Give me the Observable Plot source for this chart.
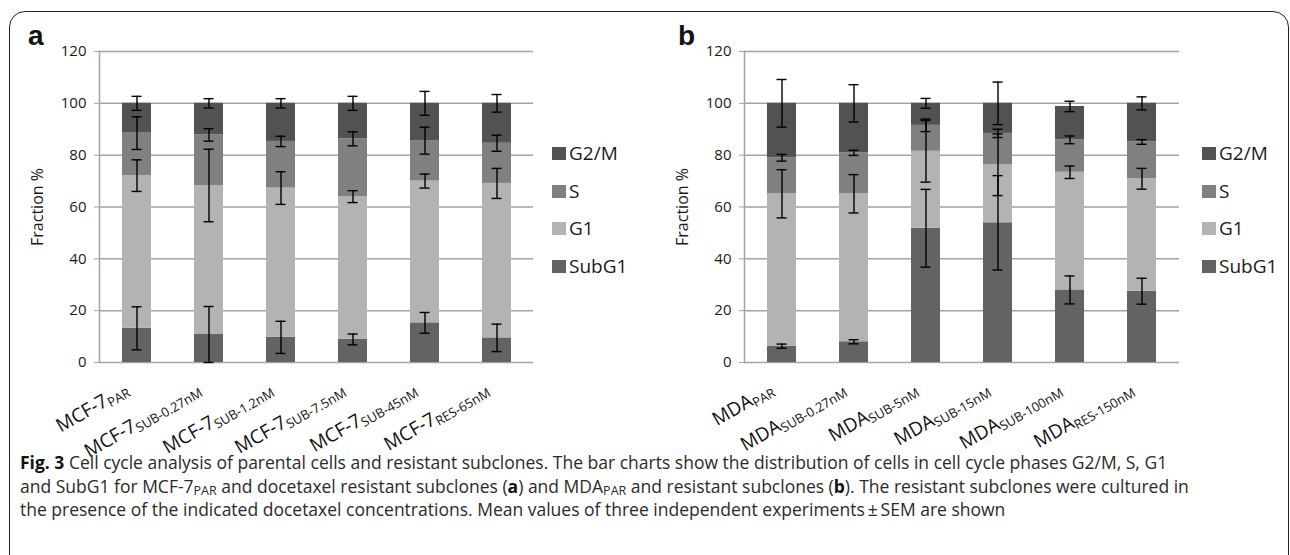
<!DOCTYPE html>
<html>
<head>
<meta charset="utf-8">
<script src="https://cdn.jsdelivr.net/npm/d3@7"></script>
<script src="https://cdn.jsdelivr.net/npm/@observablehq/plot@0.6"></script>
<style>
  html, body { margin: 0; padding: 0; background: #fff; }
  body { width: 1290px; height: 555px; overflow: hidden; position: relative; font-family: "Open Sans", sans-serif; color: #1a1a1a; }
  #frame { position: absolute; left: 9px; top: 11px; width: 1280px; height: 620px; border: 1.6px solid #222; border-radius: 16px; box-sizing: border-box; }
  .panel { position: absolute; top: 0; }
  .letter { position: absolute; font-family: "Liberation Sans", Arial, sans-serif; font-weight: bold; font-size: 28px; line-height: 1; color: #111; }
  .legend { position: absolute; }
  .legend .item { position: absolute; left: 0; display: flex; align-items: center; white-space: nowrap; font-size: 19px; line-height: 1; }
  .legend .sw { width: 14px; height: 13px; margin-right: 3px; }
  #caption { position: absolute; left: 20px; top: 451px; font-size: 17.5px; line-height: 23.5px; color: #2a2a2a; white-space: nowrap; }
  #caption b { color: #111; }
  #caption sub { font-size: 12.5px; vertical-align: -2px; line-height: 0; }
</style>
</head>
<body>
<div id="frame"></div>
<div class="letter" style="left:28px;top:22px;">a</div>
<div class="letter" style="left:678px;top:22px;">b</div>
<div id="panelA" class="panel" style="left:0px;"></div>
<div id="panelB" class="panel" style="left:645px;"></div>
<div id="legendA" class="legend" style="left:552px;top:0px;"></div>
<div id="legendB" class="legend" style="left:1202px;top:0px;"></div>
<div id="caption">
<b>Fig. 3</b> Cell cycle analysis of parental cells and resistant subclones. The bar charts show the distribution of cells in cell cycle phases G2/M, S, G1<br>
and SubG1 for MCF-7<sub>PAR</sub> and docetaxel resistant subclones (<b>a</b>) and MDA<sub>PAR</sub> and resistant subclones (<b>b</b>). The resistant subclones were cultured in<br>
the presence of the indicated docetaxel concentrations. Mean values of three independent experiments&#8201;±&#8201;SEM are shown
</div>
<script>
// ---------- data ----------
const phases = ["SubG1", "G1", "S", "G2/M"];
const phaseColors = ["#636363", "#b3b3b3", "#808080", "#525252"];
const legendOrder = ["G2/M", "S", "G1", "SubG1"];
const yTicks = [0, 20, 40, 60, 80, 100, 120];

// Panel a: MCF-7
const cellA = "MCF-7";
const subA = ["PAR", "SUB-0.27nM", "SUB-1.2nM", "SUB-7.5nM", "SUB-45nM", "RES-65nM"];
const aSubG1 = [13.2, 10.8, 9.7, 8.9, 15.3, 9.5];
const aG1    = [58.9, 57.5, 57.6, 55.1, 54.7, 59.6];
const aS     = [16.4, 19.5, 18.0, 22.3, 15.6, 15.5];
const aG2M   = [11.5, 12.2, 14.7, 13.7, 14.4, 15.4];
const aErrSubG1 = [8.3, 10.8, 6.2, 2.1, 4.0, 5.3];
const aErrG1    = [6.1, 14.0, 6.3, 2.3, 2.7, 5.8];
const aErrS     = [6.3, 2.4, 2.0, 2.7, 5.2, 3.1];
const aErrG2M   = [2.7, 1.8, 1.8, 2.7, 4.6, 3.4];

// Panel b: MDA
const cellB = "MDA";
const subB = ["PAR", "SUB-0.27nM", "SUB-5nM", "SUB-15nM", "SUB-100nM", "RES-150nM"];
const bSubG1 = [6.3, 8.0, 51.8, 53.9, 28.0, 27.5];
const bG1    = [58.8, 57.1, 29.7, 22.4, 45.4, 43.4];
const bS     = [13.9, 15.8, 10.0, 12.1, 12.5, 14.2];
const bG2M   = [21.0, 19.1, 8.5, 11.6, 12.9, 14.9];
const bErrSubG1 = [0.8, 0.8, 15.0, 18.2, 5.4, 5.0];
const bErrG1    = [9.3, 7.4, 11.9, 11.9, 2.4, 4.0];
const bErrS     = [1.3, 1.0, 2.4, 1.6, 1.5, 0.9];
const bErrG2M   = [9.2, 7.2, 1.9, 8.2, 2.0, 2.5];

// ---------- build tables ----------
function buildTable(cell, subs, vals, errs) {
  const rows = [];
  subs.forEach((s, i) => {
    let cum = 0;
    phases.forEach((p, j) => {
      cum += vals[j][i];
      rows.push({cat: cell + s, phase: p, value: vals[j][i], err: errs[j][i], top: cum});
    });
  });
  return rows;
}

const tableA = buildTable(cellA, subA, [aSubG1, aG1, aS, aG2M], [aErrSubG1, aErrG1, aErrS, aErrG2M]);
const tableB = buildTable(cellB, subB, [bSubG1, bG1, bS, bG2M], [bErrSubG1, bErrG1, bErrS, bErrG2M]);

function makeChart(cell, subs, table, width) {
  const cats = subs.map(s => cell + s);
  const chart = Plot.plot({
    width: width,
    height: 440,
    marginLeft: 99,
    marginRight: 7,
    marginTop: 51,
    marginBottom: 78,
    style: {fontFamily: "Open Sans, sans-serif", fontSize: "15px", color: "#1a1a1a", background: "transparent", overflow: "visible"},
    x: {domain: cats, paddingInner: 0.6, paddingOuter: 0.3, align: 0.5},
    y: {domain: [0, 120]},
    color: {domain: phases, range: phaseColors},
    marks: [
      Plot.gridY(yTicks, {stroke: "#a3a3a3", strokeOpacity: 1, strokeWidth: 1.5}),
      Plot.frame({anchor: "left", stroke: "#a3a3a3", strokeWidth: 1.5}),
      Plot.axisY({ticks: yTicks, tickSize: 5, tickPadding: 8, stroke: "#a3a3a3", fill: "#1a1a1a", fontSize: 15,
                  label: "Fraction %", labelAnchor: "center", labelOffset: 68, labelArrow: "none"}),
      Plot.barY(table, {x: "cat", y: "value", fill: "phase"}),
      Plot.ruleX(table, {x: "cat", y1: d => d.top - d.err, y2: d => d.top + d.err, stroke: "#000", strokeWidth: 1.4}),
      Plot.tickY(table, {x: "cat", y: d => d.top + d.err, stroke: "#000", strokeWidth: 1.4, insetLeft: 9.5, insetRight: 9.5}),
      Plot.tickY(table, {x: "cat", y: d => d.top - d.err, stroke: "#000", strokeWidth: 1.4, insetLeft: 9.5, insetRight: 9.5}),
      Plot.axisX({tickRotate: -30, tickSize: 0, tickPadding: 25, dx: -10, fontSize: 19, fill: "#111", label: null})
    ]
  });
  // subscripts in the x tick labels
  const ns = "http://www.w3.org/2000/svg";
  chart.querySelectorAll('[aria-label="x-axis tick label"] text').forEach(t => {
    const s = t.textContent;
    const i = cats.indexOf(s);
    if (i < 0) return;
    t.textContent = "";
    const m = document.createElementNS(ns, "tspan");
    m.textContent = cell;
    const sb = document.createElementNS(ns, "tspan");
    sb.textContent = subs[i];
    sb.setAttribute("font-size", "13");
    sb.setAttribute("dy", "3");
    t.appendChild(m);
    t.appendChild(sb);
  });
  const lab = chart.querySelector('[aria-label="y-axis label"] text');
  if (lab) lab.setAttribute("font-size", "16");
  return chart;
}

document.getElementById("panelA").appendChild(makeChart(cellA, subA, tableA, 540));
document.getElementById("panelB").appendChild(makeChart(cellB, subB, tableB, 541));

// legends
const legendY = [153, 191, 228, 266];
["legendA", "legendB"].forEach(id => {
  const el = document.getElementById(id);
  legendOrder.forEach((p, k) => {
    const item = document.createElement("div");
    item.className = "item";
    item.style.top = (legendY[k] - 10) + "px";
    item.style.height = "20px";
    const sw = document.createElement("div");
    sw.className = "sw";
    sw.style.background = phaseColors[phases.indexOf(p)];
    const tx = document.createElement("span");
    tx.textContent = p;
    item.appendChild(sw);
    item.appendChild(tx);
    el.appendChild(item);
  });
});
</script>
</body>
</html>
